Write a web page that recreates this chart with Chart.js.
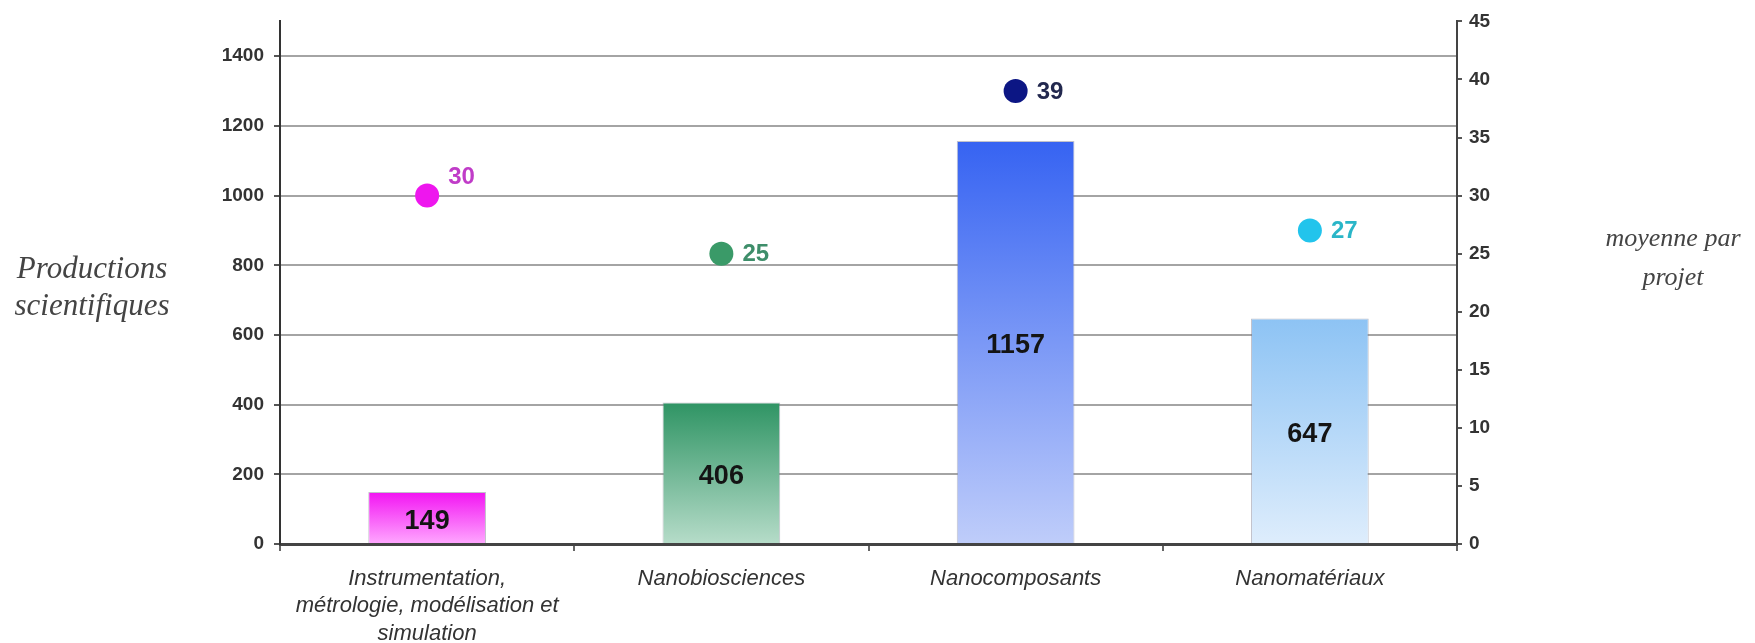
<!DOCTYPE html>
<html lang="fr">
<head>
<meta charset="utf-8">
<title>Productions scientifiques</title>
<script src="https://cdn.jsdelivr.net/npm/chart.js@4.4.1/dist/chart.umd.min.js"></script>
<style>
  html, body { margin: 0; padding: 0; background: #fff; }
  #wrap { width: 1755px; height: 643px; }
</style>
</head>
<body>
<div id="wrap"><canvas id="chart" width="1755" height="643"></canvas></div>
<script>
// ===== Données =====
const categories = [
  ['Instrumentation,', 'métrologie, modélisation et', 'simulation'],
  'Nanobiosciences',
  'Nanocomposants',
  'Nanomatériaux'
];
const productions = [149, 406, 1157, 647];   // barres (axe gauche)
const moyennes = [30, 25, 39, 27];          // points (axe droit)
const leftTicks = [0, 200, 400, 600, 800, 1000, 1200, 1400];
const rightTicks = [0, 5, 10, 15, 20, 25, 30, 35, 40, 45];

// ===== Couleurs =====
const barTop = ['#f214f2', '#2f9464', '#3663f2', '#8dc3f4'];
const barBottom = ['#ffa8ff', '#b6dcc9', '#bfcdfa', '#deedfc'];
const dotColors = ['#ee16ee', '#3a9a68', '#0c1684', '#22c4ec'];
const dotLabelColors = ['#c03cc8', '#3e8e6a', '#22284e', '#2ab6c8'];

const sans = "'Liberation Sans', Arial, sans-serif";
const serif = "'Liberation Serif', 'Times New Roman', serif";

Chart.defaults.font.family = sans;
Chart.defaults.color = '#333';

function barGradient(c) {
  const chart = c.chart;
  const i = c.dataIndex;
  const y = chart.scales.y;
  if (!chart.chartArea || !y || i === undefined) return barTop[i || 0];
  const top = y.getPixelForValue(productions[i]);
  const bottom = y.getPixelForValue(0);
  const g = chart.ctx.createLinearGradient(0, top, 0, bottom);
  g.addColorStop(0, barTop[i]);
  g.addColorStop(1, barBottom[i]);
  return g;
}

// ===== Étiquettes + titres d'axes =====
const labelsPlugin = {
  id: 'labels',
  afterDatasetsDraw(chart) {
    const { ctx } = chart;
    ctx.save();
    ctx.textBaseline = 'middle';

    ctx.font = 'bold 27px ' + sans;
    ctx.textAlign = 'center';
    ctx.fillStyle = '#141414';
    chart.getDatasetMeta(0).data.forEach((b, i) => {
      ctx.fillText(String(productions[i]), b.x, (b.y + b.base) / 2 + 4);
    });

    ctx.font = 'bold 24px ' + sans;
    ctx.textAlign = 'left';
    chart.getDatasetMeta(1).data.forEach((p, i) => {
      ctx.fillStyle = dotLabelColors[i];
      ctx.fillText(String(moyennes[i]), p.x + 21, p.y + (i === 0 ? -18 : 1));
    });
    ctx.restore();
  },
  afterDraw(chart) {
    const { ctx } = chart;
    ctx.save();
    ctx.fillStyle = '#444';
    ctx.textAlign = 'center';
    ctx.textBaseline = 'middle';
    ctx.font = 'italic 31px ' + serif;
    ctx.fillText('Productions', 92, 270);
    ctx.fillText('scientifiques', 92, 307);
    ctx.font = 'italic 26px ' + serif;
    ctx.fillText('moyenne par', 1673, 239);
    ctx.fillText('projet', 1673, 278);
    ctx.restore();
  }
};

new Chart(document.getElementById('chart'), {
  data: {
    labels: categories,
    datasets: [
      {
        type: 'bar',
        data: productions,
        yAxisID: 'y',
        order: 2,
        backgroundColor: barGradient,
        borderColor: 'rgba(120,120,140,0.45)',
        borderWidth: 1,
        borderSkipped: 'bottom',
        categoryPercentage: 1,
        barPercentage: 0.4
      },
      {
        type: 'line',
        data: moyennes,
        yAxisID: 'y2',
        order: 1,
        showLine: false,
        pointRadius: 12,
        pointBorderWidth: 0,
        pointBackgroundColor: dotColors
      }
    ]
  },
  options: {
    responsive: false,
    animation: false,
    layout: { padding: { top: 18, left: 0, right: 0, bottom: 0 } },
    plugins: { legend: { display: false }, tooltip: { enabled: false } },
    scales: {
      x: {
        offset: true,
        afterFit: s => { s.height = 99; },
        border: { color: '#444', width: 3 },
        grid: { drawOnChartArea: false, offset: true, tickLength: 7, tickColor: '#666', lineWidth: 2 },
        ticks: {
          color: '#333',
          padding: 14,
          maxRotation: 0,
          font: { size: 22, style: 'italic', lineHeight: 1.25 }
        }
      },
      y: {
        position: 'left',
        min: 0,
        max: 1500,
        afterFit: s => { s.width = 280; },
        afterBuildTicks: s => { s.ticks = leftTicks.map(v => ({ value: v })); },
        border: { color: '#333', width: 2 },
        grid: {
          color: c => (c.tick && c.tick.value === 0 ? '#555' : '#a4a4a4'),
          lineWidth: 2,
          tickLength: 6,
          tickColor: '#555'
        },
        ticks: { padding: 10, color: '#333', font: { size: 19, weight: 'bold' }, callback: v => String(v) }
      },
      y2: {
        position: 'right',
        min: 0,
        max: 45,
        afterFit: s => { s.width = 298; },
        afterBuildTicks: s => { s.ticks = rightTicks.map(v => ({ value: v })); },
        border: { color: '#444', width: 2 },
        grid: { drawOnChartArea: false, tickLength: 5, tickColor: '#555', lineWidth: 2 },
        ticks: { padding: 7, color: '#333', font: { size: 19, weight: 'bold' }, callback: v => String(v) }
      }
    }
  },
  plugins: [labelsPlugin]
});
</script>
</body>
</html>
